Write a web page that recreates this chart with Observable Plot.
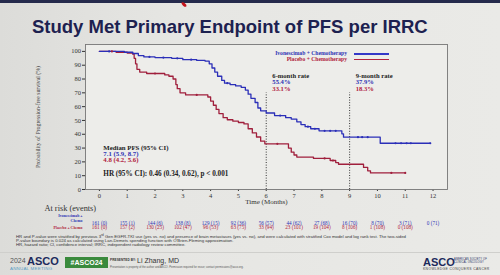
<!DOCTYPE html>
<html>
<head>
<meta charset="utf-8">
<script src="https://cdn.jsdelivr.net/npm/d3@7"></script>
<script src="https://cdn.jsdelivr.net/npm/@observablehq/plot@0.6"></script>
<style>
  html, body { margin: 0; padding: 0; }
  #slide {
    position: relative; width: 500px; height: 275px; overflow: hidden;
    background: linear-gradient(to right, #dcdcd9 0%, #e6e6e3 35%, #eaeae7 100%);
    font-family: "Liberation Sans", Arial, sans-serif;
  }
  .abs { position: absolute; white-space: nowrap; }
  #topbar { left: 0; top: 0; width: 500px; height: 3px; background: #252a4c; }
  #pointer { left: 181px; top: 3px; width: 6px; height: 3px; background: #c4141c; border-radius: 50%; transform: rotate(40deg); }
  #title { left: 32px; top: 16px; font-size: 18.5px; font-weight: bold; color: #1d2150; line-height: 22px; }
  #chart { left: 0; top: 40px; }
  .leg { font-family: "Liberation Serif", serif; font-weight: bold; font-size: 5.6px; line-height: 5.5px; text-align: right; }
  .legline { height: 1.4px; width: 35px; }
  #notes { left: 16px; top: 233px; font-size: 4.3px; line-height: 4px; color: #333; }
  #divider { left: 0; top: 252px; width: 500px; height: 1px; background: #cfcfcc; }
</style>
</head>
<body>
<div id="slide">
  <div id="topbar" class="abs"></div>
  <div id="pointer" class="abs"></div>
  <div id="title" class="abs">Study Met Primary Endpoint of PFS per IRRC</div>
  <div id="chart" class="abs"></div>

  <div class="abs leg" style="right:153px; top:51px; color:#2d33b4;">Ivonescimab + Chemotherapy</div>
  <div class="abs leg" style="right:153px; top:56.5px; color:#b0203c;">Placebo + Chemotherapy</div>
  <div class="abs legline" style="left:354px; top:53.2px; background:#3438c8;"></div>
  <div class="abs legline" style="left:354px; top:58.7px; background:#b3223f;"></div>

  <div id="notes" class="abs">
    HR and P-value were stratified by previous 3<sup style="font-size:3px">rd</sup> Gen EGFR-TKI use (yes vs. no) and presence of brain metastases (yes vs. no), and were calculated with stratified Cox model and log rank test. The two-sided<br>
    P-value boundary is 0.024 as calculated using Lan-Demets spending function with O'Brien-Fleming approximation.<br>
    HR, hazard ratio; CI, confidence interval; IRRC, independent radiology review committee.
  </div>

  <div id="divider" class="abs"></div>
  <div class="abs" style="left:10px; top:258px; font-size:7px; line-height:6.5px; color:#555;">2024</div>
  <div class="abs" style="left:27px; top:257px; font-size:11px; line-height:8px; font-weight:bold; color:#1c2a5c;">ASCO</div>
  <div class="abs" style="left:10px; top:267px; font-size:4.4px; line-height:4.4px; letter-spacing:0.25px; color:#5b9cc4;">ANNUAL MEETING</div>
  <div class="abs" style="left:65px; top:257px; width:43px; height:11px; background:#3a8a3c; color:#fff; font-weight:bold; font-size:7px; line-height:11px; text-align:center;">#ASCO24</div>
  <div class="abs" style="left:110px; top:258px; font-size:3.1px; line-height:4px; font-weight:bold; letter-spacing:0.1px; color:#333;">PRESENTED BY:</div>
  <div class="abs" style="left:137px; top:257px; font-size:7px; line-height:7px; color:#333;">Li Zhang, MD</div>
  <div class="abs" style="left:110px; top:266px; font-size:2.7px; line-height:3px; color:#555;">Presentation is property of the author and ASCO. Permission required for reuse; contact permissions@asco.org.</div>
  <div class="abs" style="left:423px; top:257.5px; font-size:11px; font-weight:bold; color:#1c2a5c; line-height:9px;">ASCO</div>
  <div class="abs" style="left:454px; top:258px; font-size:2.6px; line-height:3px; color:#1c2a5c; letter-spacing:0.15px;">AMERICAN SOCIETY OF<br>CLINICAL ONCOLOGY</div>
  <div class="abs" style="left:423px; top:267.5px; font-size:3.4px; line-height:3.6px; color:#444; letter-spacing:0.35px;">KNOWLEDGE CONQUERS CANCER</div>
</div>

<script>
// Kaplan–Meier progression-free survival, IRRC assessment
const months = [0, 1, 2, 3, 4, 5, 6, 7, 8, 9, 10, 11, 12];
const yTicks = [0, 10, 20, 30, 40, 50, 60, 70, 80, 90, 100];

// Ivonescimab + chemotherapy: step times (months) and survival (%) after each step
const ivoTime = [0, 0.9, 1.2, 1.4, 1.6, 2.0, 2.6, 3.0, 3.5, 3.8, 3.95, 4.05, 4.15, 4.25, 4.4, 4.5, 4.7, 4.9, 5.1, 5.25,
                 5.35, 5.45, 5.6, 5.7, 5.8, 6.0, 6.3, 6.7, 6.9, 7.1, 7.25, 7.4, 7.6, 7.9, 8.72, 8.78, 10.1, 11.9];
const ivoSurv = [100, 99.4, 98.5, 97, 96, 95.5, 95, 94, 93.5, 93, 91, 88, 85, 82, 79, 77, 76, 75, 74, 72,
                 69, 66, 63, 59, 57, 55.4, 53.5, 52, 51, 49, 47, 45.5, 44, 42.5, 40.3, 37.9, 33.5, 33.5];
const ivoCensor = [0.35, 1.8, 2.3, 2.8, 3.3, 4.6, 6.5, 7.5, 7.75, 8.1, 8.3, 8.5, 9.3, 9.45, 9.65, 10.65, 10.85, 11.05, 11.2, 11.9];

// Placebo + chemotherapy
const placTime = [0, 0.6, 1.0, 1.2, 1.25, 1.3, 1.35, 1.45, 1.7, 2.35, 2.5, 2.65, 2.75, 2.8, 2.9, 3.1, 3.9, 4.0, 4.1, 4.2,
                  4.3, 4.45, 4.6, 4.8, 5.0, 5.2, 5.35, 5.5, 5.65, 5.8, 5.95, 6.8, 6.9, 7.0, 7.1, 7.7, 8.3, 8.5, 8.6, 9.5,
                  9.65, 9.75, 11.0];
const placSurv = [100, 99.4, 98.8, 98, 95, 91, 87, 85, 84, 83, 82, 80, 76, 73, 70, 68.5, 67, 64, 61, 58,
                  55, 52, 50.5, 49.5, 48.5, 47.5, 44, 41, 38, 35, 33.1, 30, 27, 25, 23.5, 22.5, 21, 19.5, 18.3, 16,
                  13.5, 12, 12];
const placCensor = [0.45, 2.0, 3.5, 6.4, 8.1, 8.4, 10.5, 11.0];

// Landmark rates
const rateMonths = [6, 9];
const ivoRates = [55.4, 37.9];
const placRates = [33.1, 18.3];

// Number at risk (cumulative events)
const ivoAtRisk = [161, 155, 144, 138, 129, 92, 56, 44, 27, 16, 8, 3, 0];
const ivoEvents = [0, 1, 6, 8, 15, 36, 57, 62, 68, 70, 70, 71, 71];
const placAtRisk = [161, 157, 130, 102, 96, 63, 33, 23, 19, 8, 1, 0];
const placEvents = [0, 2, 25, 47, 53, 75, 94, 101, 104, 106, 108, 108];

const BLUE = "#2b2fb8", RED = "#a01f3c";
const BLUE_TXT = "#2d33b4", RED_TXT = "#b0203c";
const SERIF = "Liberation Serif, Times New Roman, serif";

const curve = (t, s) => t.map((d, i) => ({t: d, s: s[i]}));
const ivo = curve(ivoTime, ivoSurv);
const plac = curve(placTime, placSurv);

// survival at a censoring time = last step at or before it
const survAt = (t, s) => x => s[Math.max(0, d3.bisectRight(t, x) - 1)];
const ivoMarks = ivoCensor.map(x => ({t: x, s: survAt(ivoTime, ivoSurv)(x)}));
const placMarks = placCensor.map(x => ({t: x, s: survAt(placTime, placSurv)(x)}));

const ivoRisk = ivoAtRisk.map((n, i) => ({m: months[i], label: `${n} (${ivoEvents[i]})`}));
const placRisk = placAtRisk.map((n, i) => ({m: months[i], label: `${n} (${placEvents[i]})`}));

const fmtPct = v => `${v.toFixed(1)}%`;
const rateLabels = rateMonths.map((m, i) => ({
  m, head: `${m}-month rate`, ivo: fmtPct(ivoRates[i]), plac: fmtPct(placRates[i])
}));

const chart = Plot.plot({
  width: 500,
  height: 200,
  marginTop: 4,
  marginBottom: 51,
  marginLeft: 85,
  marginRight: 53,
  style: {fontFamily: SERIF, fontSize: "6.5px", color: "#333", background: "transparent", overflow: "visible"},
  x: {domain: [-0.5, 12.52], ticks: months, tickSize: 2, tickPadding: 1.5, label: null},
  y: {domain: [0, 105], ticks: yTicks, tickSize: 3, tickPadding: 1.5, label: null},
  marks: [
    Plot.frame({fill: "#ededea", stroke: "#777", strokeWidth: 0.9}),

    // landmark guides
    Plot.ruleX(rateMonths, {y1: 0, y2: 70, stroke: "#333", strokeWidth: 1, strokeDasharray: "1,1.6"}),

    // survival curves
    Plot.line(plac, {x: "t", y: "s", curve: "step-after", stroke: RED, strokeWidth: 1.3}),
    Plot.line(ivo, {x: "t", y: "s", curve: "step-after", stroke: BLUE, strokeWidth: 1.3}),
    Plot.dot(placMarks, {x: "t", y: "s", r: 1.1, fill: RED, stroke: null}),
    Plot.dot(ivoMarks, {x: "t", y: "s", r: 1.1, fill: BLUE, stroke: null}),

    // landmark rate annotations
    Plot.text(rateLabels, {x: d => d.m + 0.22, y: 82.6, text: "head", textAnchor: "start", fontWeight: "bold", fontSize: 6.6, fill: "#222"}),
    Plot.text(rateLabels, {x: d => d.m + 0.22, y: 77.8, text: "ivo", textAnchor: "start", fontWeight: "bold", fontSize: 6.6, fill: BLUE_TXT}),
    Plot.text(rateLabels, {x: d => d.m + 0.22, y: 73, text: "plac", textAnchor: "start", fontWeight: "bold", fontSize: 6.6, fill: RED_TXT}),

    // median PFS and hazard ratio
    Plot.text(["Median PFS (95% CI)"], {x: 0.14, y: 30.4, textAnchor: "start", fontWeight: "bold", fontSize: 6.8, fill: "#222"}),
    Plot.text(["7.1 (5.9, 8.7)"], {x: 0.14, y: 25.8, textAnchor: "start", fontWeight: "bold", fontSize: 6.8, fill: BLUE_TXT}),
    Plot.text(["4.8 (4.2, 5.6)"], {x: 0.14, y: 21.2, textAnchor: "start", fontWeight: "bold", fontSize: 6.8, fill: RED_TXT}),
    Plot.text(["HR (95% CI): 0.46 (0.34, 0.62), p < 0.001"], {x: 0.14, y: 11.4, textAnchor: "start", fontWeight: "bold", fontSize: 7.2, fill: "#222"}),

    // axis titles
    Plot.text(["Probability of Progression-free survival (%)"], {frameAnchor: "left", textAnchor: "middle", rotate: -90, dx: -47, fontSize: 5.8, fill: "#444"}),
    Plot.text(["Time (Months)"], {frameAnchor: "bottom", dy: 14.5, fontSize: 7, fill: "#333"}),

    // number at risk table
    Plot.text(["At risk (events)"], {frameAnchor: "bottom-left", textAnchor: "start", dx: -41, dy: 21, fontSize: 8.3, fill: "#333"}),
    Plot.text(["Ivonescimab +\nChemo"], {frameAnchor: "bottom-left", textAnchor: "end", dx: -3, dy: 32, fontSize: 3.9, lineHeight: 1.05, fontWeight: "bold", fill: BLUE_TXT}),
    Plot.text(["Placebo + Chemo"], {frameAnchor: "bottom-left", textAnchor: "end", dx: -3, dy: 39.5, fontSize: 3.9, fontWeight: "bold", fill: RED_TXT}),
    Plot.text(ivoRisk, {x: "m", frameAnchor: "bottom", dy: 35, text: "label", fontSize: 5.2, fill: BLUE_TXT}),
    Plot.text(placRisk, {x: "m", frameAnchor: "bottom", dy: 39.5, text: "label", fontSize: 5.2, fill: RED_TXT})
  ]
});

document.getElementById("chart").appendChild(chart);
</script>
</body>
</html>
